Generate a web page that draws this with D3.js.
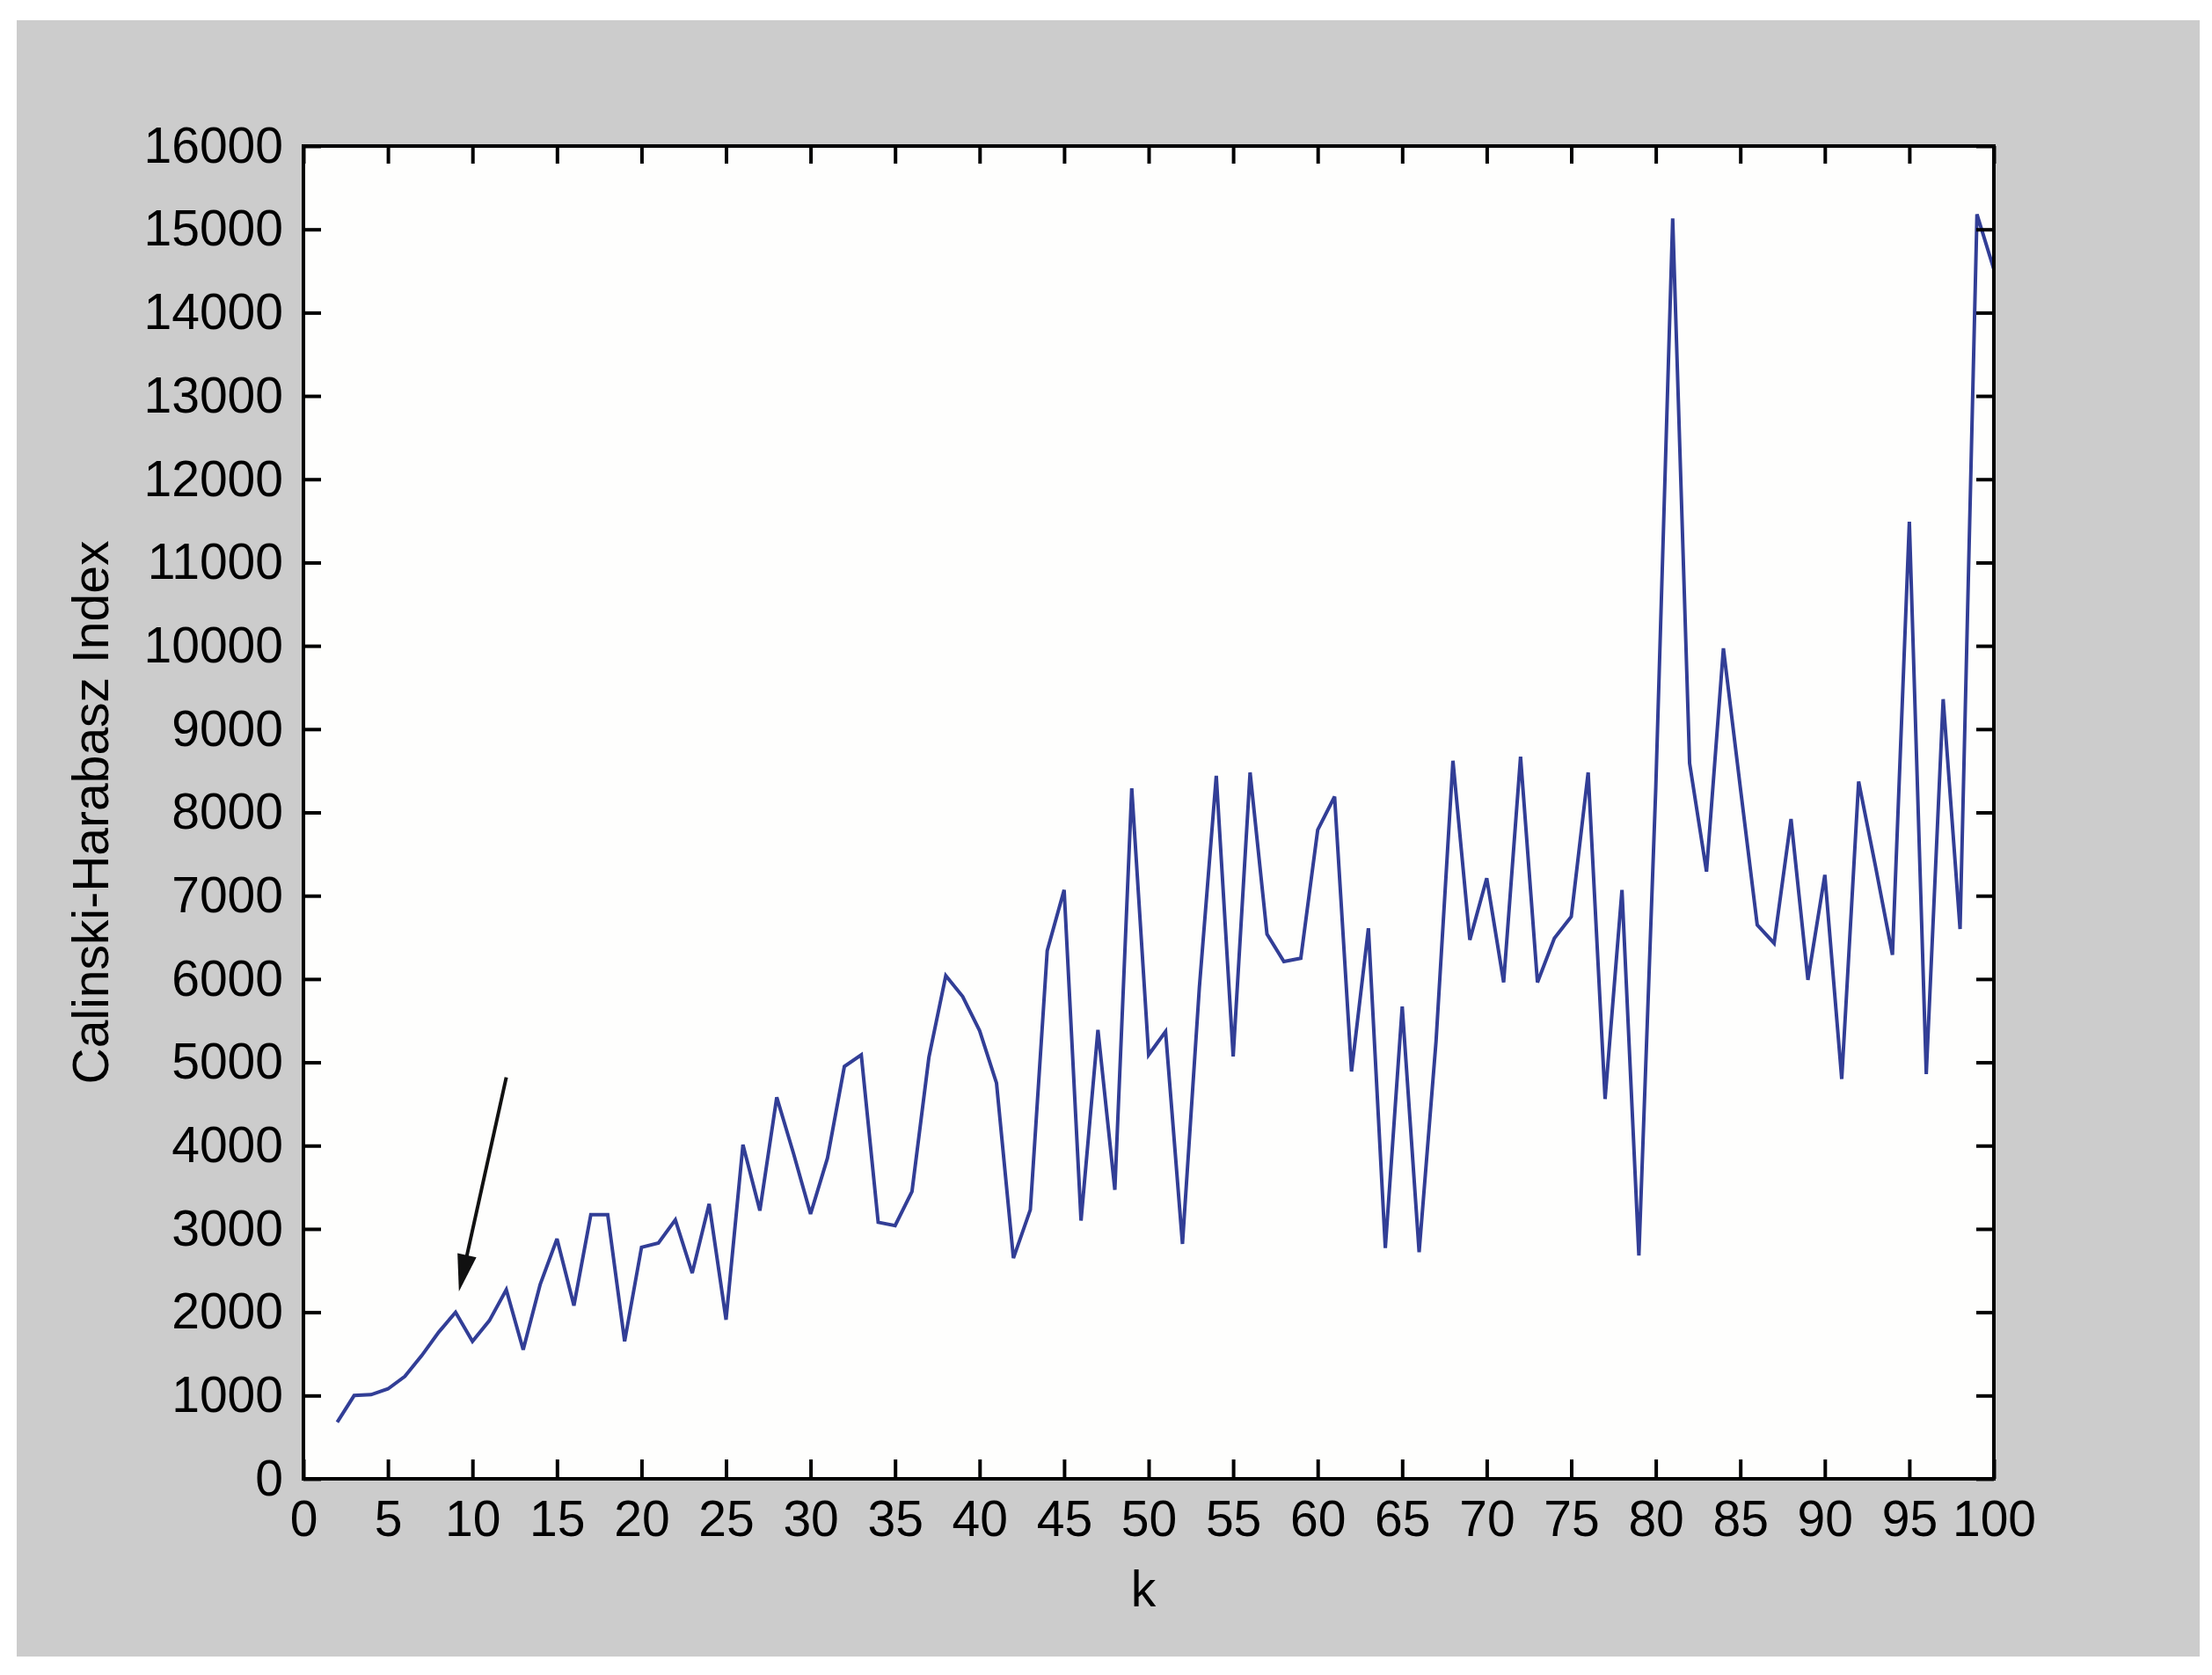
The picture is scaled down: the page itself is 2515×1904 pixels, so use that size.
<!DOCTYPE html>
<html>
<head>
<meta charset="utf-8">
<script src="https://cdn.jsdelivr.net/npm/d3@7"></script>
<style>
  html, body { margin: 0; padding: 0; background: #ffffff; }
  svg { display: block; }
</style>
</head>
<body>
<script>
// ---------------- data ----------------
const kValues = [2,3,4,5,6,7,8,9,10,11,12,13,14,15,16,17,18,19,20,
  21,22,23,24,25,26,27,28,29,30,31,32,33,34,35,36,37,38,39,40,
  41,42,43,44,45,46,47,48,49,50,51,52,53,54,55,56,57,58,59,60,
  61,62,63,64,65,66,67,68,69,70,71,72,73,74,75,76,77,78,79,80,
  81,82,83,84,85,86,87,88,89,90,91,92,93,94,95,96,97,98,99,100];

const chIndex = [680,1000,1010,1080,1230,1480,1760,2000,1650,
  1900,2270,1550,2330,2880,2080,3170,3170,1650,2780,
  2830,3110,2470,3300,1910,4010,3220,4580,3900,3180,
  3850,4950,5090,3080,3040,3450,5060,6040,5790,5380,
  4750,2650,3230,6340,7070,3100,5390,3470,8290,5090,
  5370,2820,5900,8440,5070,8480,6540,6210,6250,7790,
  8190,4890,6610,2770,5670,2720,5250,8620,6470,7210,
  5960,8670,5960,6490,6750,8480,4560,7070,2680,8300,
  15130,8590,7290,9970,8300,6650,6430,7920,5990,7250,
  4800,8370,7350,6290,11490,4860,9360,6600,15180,14520];

const xTickValues = [0,5,10,15,20,25,30,35,40,45,50,55,60,65,70,75,80,85,90,95,100];
const yTickValues = [0,1000,2000,3000,4000,5000,6000,7000,8000,9000,10000,
  11000,12000,13000,14000,15000,16000];

const xLabelText = "k";
const yLabelText = "Calinski-Harabasz Index";

// annotation arrow (in data units)
const arrowStart = [12.0, 4820];
const arrowTip = [9.2, 2250];

// ---------------- layout ----------------
const W = 2515, H = 1904;
const plot = { left: 345, right: 2267, top: 166, bottom: 1681 };
const FONT = "'Liberation Sans', Arial, Helvetica, sans-serif";
const FS = 57;

const svg = d3.select("body").append("svg")
  .attr("width", W).attr("height", H)
  .attr("viewBox", `0 0 ${W} ${H}`);

// figure background
svg.append("rect").attr("x", 0).attr("y", 0).attr("width", W).attr("height", H).attr("fill", "#ffffff");
svg.append("rect").attr("x", 19).attr("y", 23).attr("width", 2482).attr("height", 1860).attr("fill", "#cccccc");

// axes background
svg.append("rect")
  .attr("x", plot.left).attr("y", plot.top)
  .attr("width", plot.right - plot.left).attr("height", plot.bottom - plot.top)
  .attr("fill", "#fefefd");

const x = d3.scaleLinear().domain([0, 100]).range([plot.left, plot.right]);
const y = d3.scaleLinear().domain([0, 16000]).range([plot.bottom, plot.top]);

// data line
const data = kValues.map((k, i) => ({ k: k, v: chIndex[i] }));
const line = d3.line().x(d => x(d.k)).y(d => y(d.v));
svg.append("path")
  .datum(data)
  .attr("d", line)
  .attr("fill", "none")
  .attr("stroke", "#323e96")
  .attr("stroke-width", 4)
  .attr("stroke-linejoin", "miter")
  .attr("stroke-miterlimit", 3);

// axes
function styleAxis(g) {
  g.select(".domain").remove();
  g.selectAll(".tick line").attr("stroke", "#000").attr("stroke-width", 4);
  g.selectAll(".tick text")
    .attr("fill", "#000")
    .style("font-family", FONT)
    .style("font-size", FS + "px");
}

const xAxis = d3.axisBottom(x).tickValues(xTickValues).tickSize(-22).tickPadding(25)
  .tickFormat(d3.format("d"));
svg.append("g").attr("transform", `translate(0,${plot.bottom})`).call(xAxis).call(styleAxis);

const xAxisTop = d3.axisTop(x).tickValues(xTickValues).tickSize(-20).tickFormat("");
svg.append("g").attr("transform", `translate(0,${plot.top})`).call(xAxisTop).call(styleAxis);

const yAxis = d3.axisLeft(y).tickValues(yTickValues).tickSize(-20).tickPadding(23)
  .tickFormat(d3.format("d"));
svg.append("g").attr("transform", `translate(${plot.left},0)`).call(yAxis).call(styleAxis);

const yAxisRight = d3.axisRight(y).tickValues(yTickValues).tickSize(-20).tickFormat("");
svg.append("g").attr("transform", `translate(${plot.right},0)`).call(yAxisRight).call(styleAxis);

// frame
svg.append("rect")
  .attr("x", plot.left).attr("y", plot.top)
  .attr("width", plot.right - plot.left).attr("height", plot.bottom - plot.top)
  .attr("fill", "none").attr("stroke", "#000").attr("stroke-width", 4);

// axis labels
svg.append("text")
  .attr("x", (plot.left + plot.right) / 2 - 6)
  .attr("y", 1826)
  .attr("text-anchor", "middle")
  .style("font-family", FONT).style("font-size", FS + "px")
  .attr("fill", "#000")
  .text(xLabelText);

svg.append("text")
  .attr("transform", `translate(123,${(plot.top + plot.bottom) / 2}) rotate(-90)`)
  .attr("text-anchor", "middle")
  .style("font-family", FONT).style("font-size", FS + "px")
  .attr("fill", "#000")
  .text(yLabelText);

// annotation arrow
const sx = x(arrowStart[0]), sy = y(arrowStart[1]);
const tx = x(arrowTip[0]), ty = y(arrowTip[1]);
const dx = tx - sx, dy = ty - sy;
const len = Math.hypot(dx, dy);
const ux = dx / len, uy = dy / len;
const headLen = 42, headHalf = 11;
const bx = tx - ux * headLen, by = ty - uy * headLen;
svg.append("line")
  .attr("x1", sx).attr("y1", sy).attr("x2", bx + ux * 4).attr("y2", by + uy * 4)
  .attr("stroke", "#111").attr("stroke-width", 4);
svg.append("path")
  .attr("d", `M${tx},${ty} L${bx - uy * headHalf},${by + ux * headHalf} L${bx + uy * headHalf},${by - ux * headHalf} Z`)
  .attr("fill", "#111");
</script>
</body>
</html>
